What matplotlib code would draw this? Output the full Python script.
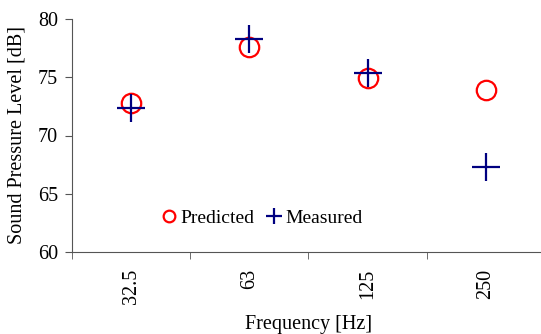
import numpy as np
import matplotlib.pyplot as plt

plt.rcParams['font.family'] = ['Liberation Serif', 'DejaVu Serif']

# datos
freqs = ['32.5', '63', '125', '250']
predicted = [72.8, 77.6, 74.9, 73.9]
measured = [72.4, 78.3, 75.4, 67.3]

x = np.arange(len(freqs))

fig = plt.figure(figsize=(5.41, 3.34), dpi=100)
ax = fig.add_axes([72/541, 1-252/334, 473/541, 233/334])

ax.plot(x, predicted, 'o', ls='none', mfc='none', mec='red', mew=1.6,
        ms=14, label='Predicted')
ax.plot(x, measured, '+', ls='none', color='#000080', mew=1.6,
        ms=20, label='Measured')

ax.set_xlim(-0.5, len(freqs) - 0.5)
ax.set_ylim(60, 80)
ax.set_yticks([60, 65, 70, 75, 80])
ax.set_xticks(x)
ax.set_xticklabels(freqs, rotation=90)
ax.set_xticks(np.arange(len(freqs) + 1) - 0.5, minor=True)
ax.tick_params(axis='x', which='major', length=0, pad=12, labelsize=14.5)
ax.tick_params(axis='x', which='minor', length=5, color='#555555')
ax.tick_params(axis='y', length=5, color='#555555', labelsize=14.5, pad=5)

for s in ['top', 'right']:
    ax.spines[s].set_visible(False)
for s in ['left', 'bottom']:
    ax.spines[s].set_color('#555555')

ax.set_xlabel('Frequency [Hz]', fontsize=14.5, labelpad=8)
ax.set_ylabel('Sound Pressure Level [dB]', fontsize=14.5, labelpad=8)

ax.legend(loc='center', bbox_to_anchor=(0.40, 0.145), ncol=2, frameon=False,
          markerscale=0.6, handletextpad=0.1, columnspacing=0.5,
          handlelength=1.0, fontsize=14)

plt.savefig('out.png', dpi=100)
